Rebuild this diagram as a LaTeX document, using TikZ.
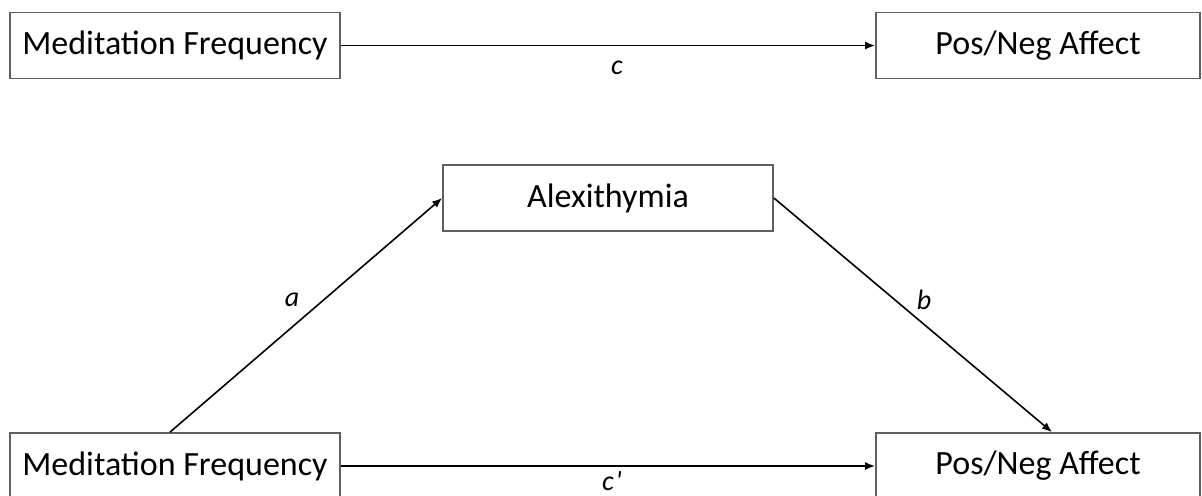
\documentclass[tikz,border=0pt]{standalone}
\usepackage{fontspec}
\setmainfont{Carlito}
\usetikzlibrary{arrows.meta}
\definecolor{boxgray}{RGB}{95,95,95}
\begin{document}
\begin{tikzpicture}[x=0.5pt,y=-0.5pt,
  box/.style={draw=boxgray, line width=0.9pt, inner sep=0pt, minimum height=33pt, font=\fontsize{17}{20}\selectfont},
  conn/.style={line width=0.8pt, -{Latex[length=5pt,width=4pt]}},
  lab/.style={font=\fontsize{14}{16}\selectfont\itshape, inner sep=0pt}]
\useasboundingbox (0,0) rectangle (1202,495);
\node[box, minimum width=165pt] (tl) at (175,45.5) {Meditation Frequency};
\node[box, minimum width=162pt] (tr) at (1038,45.5) {Pos/Neg Affect};
\node[box, minimum width=165pt] (al) at (608,198) {Alexithymia};
\node[box, minimum width=165pt] (bl) at (175,466) {Meditation Frequency};
\node[box, minimum width=162pt] (br) at (1038,466) {Pos/Neg Affect};
\draw[conn] (tl.east) -- (tr.west);
\draw[conn] (bl.east) -- (br.west);
\draw[conn] ([xshift=-2.5pt]bl.north) -- (al.west);
\draw[conn] (al.east) -- ([xshift=7pt]br.north);
\node[lab] (lc) at (617,68) {c};
\node[lab] (lcp) at (612,481) {c\kern1pt\textquotesingle};
\node[lab] (la) at (292,300) {a};
\node[lab] (lb) at (924,300) {b};
\end{tikzpicture}
\end{document}
